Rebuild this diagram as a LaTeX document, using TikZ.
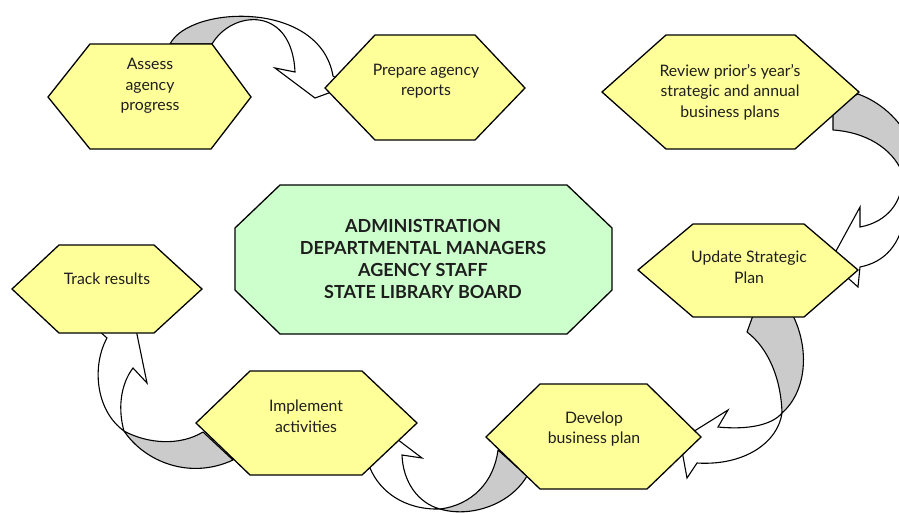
\documentclass[tikz,border=0pt]{standalone}
\usepackage{fontspec}
\setmainfont{Lato}
\definecolor{hexyellow}{HTML}{FFFF99}
\definecolor{backgray}{HTML}{CBCBCB}
\definecolor{centgreen}{HTML}{CCFFCC}
\definecolor{txt}{HTML}{1E1E1E}
\begin{document}
\begin{tikzpicture}[x=1pt,y=-1pt,
  hexa/.style={draw=black,fill=hexyellow,line width=1.3pt,line join=miter},
  octa/.style={draw=black,fill=centgreen,line width=1.3pt,line join=miter},
  back/.style={draw=black,fill=backgray,line width=1.1pt,line join=round},
  front/.style={draw=black,fill=white,line width=1.1pt,line join=miter},
  lbl/.style={font=\fontsize{15.8}{20.5}\selectfont,text=txt,align=center,inner sep=0pt},
  clbl/.style={font=\fontsize{18}{21.7}\selectfont\bfseries,text=txt,align=center,inner sep=0pt}]
\useasboundingbox (0,0) rectangle (899,512);

% ---------- Arrow A: Assess -> Prepare ----------
\path[fill=white] (170,44) .. controls (190,5) and (320,0) .. (333,76) -- (348,86) -- (315,98) -- (275,68) -- (295,72) .. controls (292,5) and (232,10) .. (212,44) -- cycle;
\begin{scope}
  \clip (150,0) rectangle (258,60);
  \fill[backgray] (170,44) .. controls (190,5) and (320,0) .. (333,76) -- (348,86) -- (315,98) -- (275,68) -- (295,72) .. controls (292,5) and (232,10) .. (212,44) -- cycle;
\end{scope}
\draw[line width=1.1pt] (170,44) .. controls (190,5) and (320,0) .. (333,76) -- (348,86) -- (315,98) -- (275,68) -- (295,72) .. controls (292,5) and (232,10) .. (212,44) -- cycle;

% ---------- Arrow B: Review -> Update ----------
\draw[back] (845,100) -- (858,94) .. controls (880,102) and (898,118) .. (910,140) -- (910,180) -- (902,172) .. controls (892,148) and (865,132) .. (833,130) -- (833,112) -- cycle;
\draw[front] (902,172) .. controls (905,200) and (888,222) .. (860,227) -- (860,207) -- (830,262) -- (858,287) -- (860,267) .. controls (885,262) and (900,245) .. (905,215) -- (910,175) -- cycle;

% ---------- Arrow C: Update -> Develop ----------
\draw[back] (755,310) -- (747,332) .. controls (768,348) and (781,378) .. (782,413) .. controls (808,390) and (810,345) .. (790,310) -- cycle;
\draw[front] (782,413) .. controls (778,442) and (745,466) .. (697,463) -- (687,478) -- (680,440) -- (728,410) -- (718,427) .. controls (748,430) and (772,425) .. (782,413) -- cycle;

% ---------- Arrow D: Develop -> Implement ----------
\draw[back] (498,450) .. controls (494,482) and (472,505) .. (440,509) .. controls (470,518) and (510,505) .. (527,476) -- cycle;
\draw[front] (440,509) .. controls (418,503) and (403,482) .. (402,455) -- (422,458) -- (385,430) -- (362,462) -- (370,468) .. controls (380,492) and (405,510) .. (440,509) -- cycle;

% ---------- Arrow E: Implement -> Track ----------
\draw[back] (203,432) .. controls (180,446) and (148,444) .. (124,431) .. controls (145,462) and (190,480) .. (233,460) -- cycle;
\draw[front] (124,431) .. controls (118,410) and (120,385) .. (133,368) -- (147,383) -- (132,310) -- (98,330) -- (107,338) .. controls (92,365) and (95,410) .. (124,431) -- cycle;

% ---------- Hexagons ----------
\draw[hexa] (48,97) -- (90,44) -- (212,44) -- (251,97) -- (211,149) -- (90,149) -- cycle;
\draw[hexa] (325,88) -- (375,35) -- (475,35) -- (525,88) -- (475,140) -- (375,140) -- cycle;
\draw[hexa] (602,92) -- (666,35) -- (795,35) -- (859,92) -- (795,149) -- (666,149) -- cycle;
\draw[hexa] (638,270) -- (693,224) -- (804,224) -- (858,270) -- (804,317) -- (693,317) -- cycle;
\draw[hexa] (486,437) -- (540,384) -- (647,384) -- (701,437) -- (647,489) -- (540,489) -- cycle;
\draw[hexa] (196,423) -- (250,371) -- (362,371) -- (417,423) -- (362,475) -- (250,475) -- cycle;
\draw[hexa] (12,289) -- (59,245) -- (154,245) -- (202,289) -- (154,333) -- (59,333) -- cycle;
\draw[octa] (235,228) -- (280,185) -- (567,185) -- (612,228) -- (612,290) -- (567,334) -- (280,334) -- (235,290) -- cycle;

% ---------- Labels ----------
\node[lbl] (assess) at (150,86) {Assess\\agency\\progress};
\node[lbl] (prepare) at (426,81) {Prepare agency\\reports};
\node[lbl] (review) at (730,92) {Review prior’s year’s\\strategic and annual\\business plans};
\node[lbl] (update) at (749,267) {Update Strategic\\Plan};
\node[lbl] (develop) at (594,429) {Develop\\business plan};
\node[lbl] (implement) at (306,416) {Implement\\activities};
\node[lbl] (track) at (107,279) {Track results};
\node[clbl] (center) at (423,259) {ADMINISTRATION\\DEPARTMENTAL MANAGERS\\AGENCY STAFF\\STATE LIBRARY BOARD};
\end{tikzpicture}
\end{document}
